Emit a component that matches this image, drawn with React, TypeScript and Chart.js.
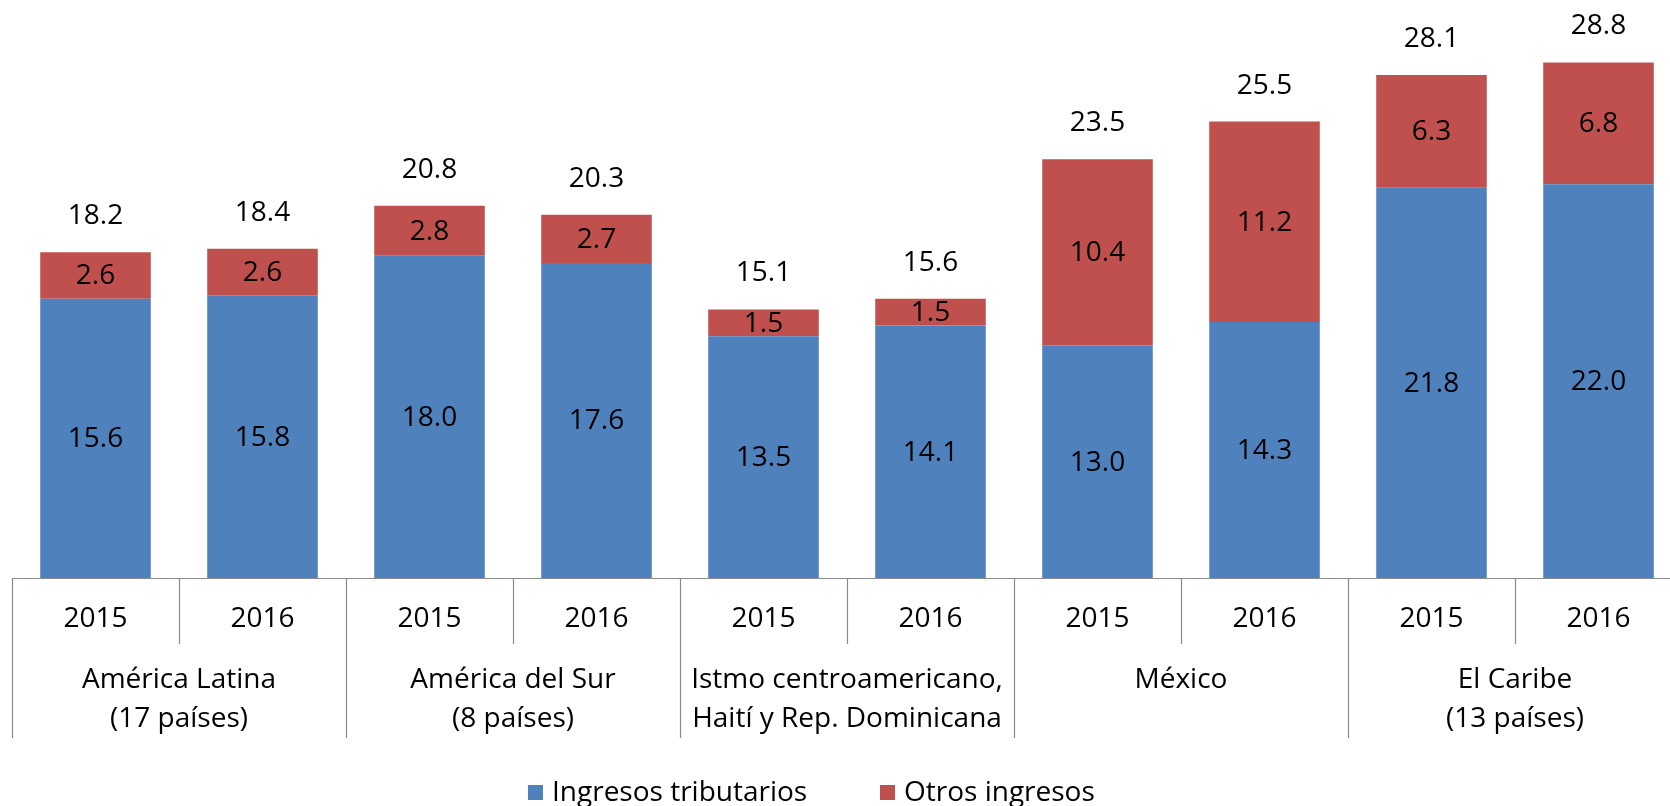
import React, { useEffect, useRef } from "react";
import { Chart, registerables } from "chart.js";

Chart.register(...registerables);

const years = ["2015", "2016", "2015", "2016", "2015", "2016", "2015", "2016", "2015", "2016"];
const groupLabels = [
  ["América Latina", "(17 países)"],
  ["América del Sur", "(8 países)"],
  ["Istmo centroamericano,", "Haití y Rep. Dominicana"],
  ["México"],
  ["El Caribe", "(13 países)"],
];
const tributarios = [15.6, 15.8, 18.0, 17.6, 13.5, 14.1, 13.0, 14.3, 21.8, 22.0];
const otros = [2.6, 2.6, 2.8, 2.7, 1.5, 1.5, 10.4, 11.2, 6.3, 6.8];
const totales = [18.2, 18.4, 20.8, 20.3, 15.1, 15.6, 23.5, 25.5, 28.1, 28.8];
const seriesNames = ["Ingresos tributarios", "Otros ingresos"];
const seriesColors = ["#4F81BD", "#C0504D"];

const FONT = "28px 'Open Sans'";
const GRID = "#8a8a8a";

const overlay = {
  id: "overlay",
  afterDatasetsDraw(chart: any) {
    const ctx = chart.ctx;
    ctx.save();
    ctx.font = FONT;
    ctx.fillStyle = "#000";
    ctx.textAlign = "center";
    ctx.textBaseline = "middle";
    const m0 = chart.getDatasetMeta(0);
    const m1 = chart.getDatasetMeta(1);
    m0.data.forEach((el: any, i: number) => {
      ctx.fillText(tributarios[i].toFixed(1), el.x, (el.y + el.base) / 2 + 1);
    });
    m1.data.forEach((el: any, i: number) => {
      ctx.fillText(otros[i].toFixed(1), el.x, (el.y + el.base) / 2 + 1);
      ctx.fillText(totales[i].toFixed(1), el.x, el.y - 36);
    });
    ctx.restore();
  },
  afterDraw(chart: any) {
    const ctx = chart.ctx;
    const xs = chart.scales.x;
    const ys = chart.scales.y;
    const y0 = ys.getPixelForValue(0);
    const n = years.length;
    const cw = n > 1 ? xs.getPixelForValue(1) - xs.getPixelForValue(0) : 0;
    const left = xs.getPixelForValue(0) - cw / 2;
    ctx.save();
    ctx.strokeStyle = GRID;
    ctx.lineWidth = 1.2;
    ctx.beginPath();
    ctx.moveTo(left, y0 + 0.5);
    ctx.lineTo(xs.getPixelForValue(n - 1) + cw / 2, y0 + 0.5);
    for (let i = 0; i <= n; i++) {
      const bx = Math.round(left + i * cw) + 0.5;
      ctx.moveTo(bx, y0);
      ctx.lineTo(bx, y0 + (i % 2 === 0 ? 160 : 66));
    }
    ctx.stroke();

    ctx.font = FONT;
    ctx.fillStyle = "#000";
    ctx.textAlign = "center";
    ctx.textBaseline = "middle";
    years.forEach((yr, i) => {
      ctx.fillText(yr, xs.getPixelForValue(i), y0 + 41);
    });
    groupLabels.forEach((lines, g) => {
      const cx = (xs.getPixelForValue(2 * g) + xs.getPixelForValue(2 * g + 1)) / 2;
      lines.forEach((t, k) => ctx.fillText(t, cx, y0 + 102 + k * 39.5));
    });

    // legend
    const ly = 793;
    const items = [
      { x: 528, c: seriesColors[0], t: seriesNames[0] },
      { x: 880, c: seriesColors[1], t: seriesNames[1] },
    ];
    ctx.textAlign = "left";
    items.forEach((it) => {
      ctx.fillStyle = it.c;
      ctx.fillRect(it.x, ly - 8, 15, 15);
      ctx.fillStyle = "#000";
      ctx.fillText(it.t, it.x + 24, ly);
    });
    ctx.restore();
  },
};

export default function App() {
  const ref = useRef<HTMLCanvasElement | null>(null);
  useEffect(() => {
    if (!ref.current) return;
    const chart = new Chart(ref.current, {
      type: "bar",
      data: {
        labels: years,
        datasets: [
          {
            label: seriesNames[0],
            data: tributarios,
            backgroundColor: seriesColors[0],
            borderWidth: 0,
            barPercentage: 0.662,
            categoryPercentage: 1,
          },
          {
            label: seriesNames[1],
            data: otros,
            backgroundColor: seriesColors[1],
            borderWidth: 0,
            barPercentage: 0.662,
            categoryPercentage: 1,
          },
        ],
      },
      options: {
        responsive: false,
        animation: false,
        devicePixelRatio: 1,
        layout: { padding: { left: 12, right: 18, top: 41, bottom: 228 } },
        plugins: { legend: { display: false }, tooltip: { enabled: false } },
        scales: {
          x: { stacked: true, display: false },
          y: { stacked: true, display: false, min: 0, max: 30 },
        },
      },
      plugins: [overlay],
    });
    return () => chart.destroy();
  }, []);
  return (
    <div
      style={{
        position: "absolute",
        left: 0,
        top: 0,
        width: 1670,
        height: 806,
        overflow: "hidden",
        background: "#fff",
      }}
    >
      <canvas ref={ref} width={1700} height={806} style={{ display: "block" }} />
    </div>
  );
}
